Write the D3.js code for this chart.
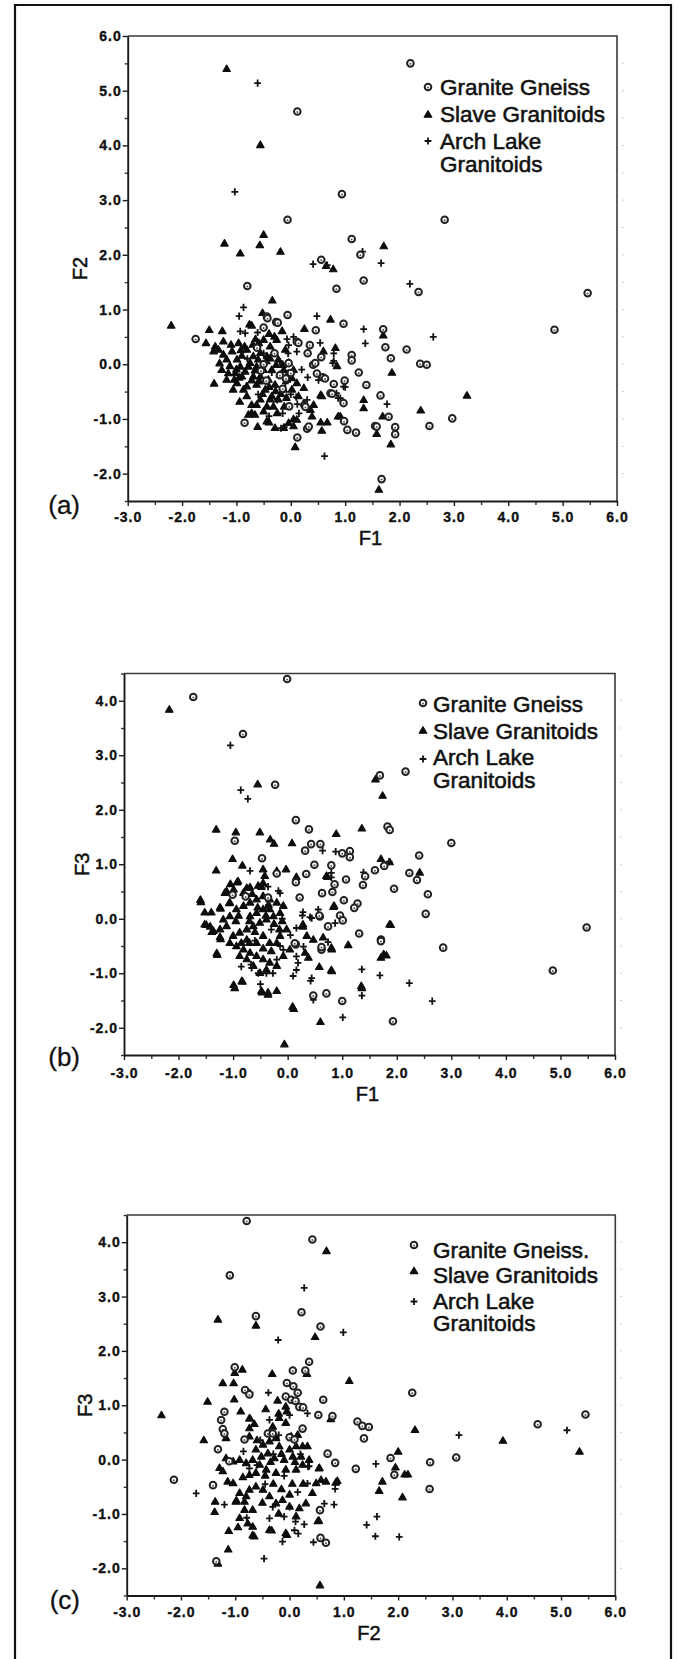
<!DOCTYPE html>
<html>
<head>
<meta charset="utf-8">
<script src="https://cdn.jsdelivr.net/npm/d3@7/dist/d3.min.js"></script>
<style>
  html, body { margin: 0; padding: 0; background: #fff; }
  svg { display: block; }
</style>
</head>
<body>
<script>
// ---------------- DATA ----------------
const seriesNames = ["Granite Gneiss", "Slave Granitoids", "Arch Lake", "Granitoids"];
const seriesNamesC = ["Granite Gneiss.", "Slave Granitoids", "Arch Lake", "Granitoids"];
const panelLabels = ["(a)", "(b)", "(c)"];
const xTitles = ["F1", "F1", "F2"];
const yTitles = ["F2", "F3", "F3"];
const xDomain = [-3, 6];
const yDomainA = [-2.5, 6];
const yDomainBC = [-2.5, 4.5];
const xTickValues = [-3, -2, -1, 0, 1, 2, 3, 4, 5, 6];
const yTicksA = [-2, -1, 0, 1, 2, 3, 4, 5, 6];
const yTicksBC = [-2, -1, 0, 1, 2, 3, 4];

// Panel (a): F1 vs F2
const gneissA = [[2.2,5.5],[0.12,4.62],[0.94,3.11],[-0.06,2.64],[2.83,2.64],[1.12,2.29],[1.28,2.0],[0.56,1.91],[1.34,1.53],[-0.8,1.43],[0.84,1.38],[2.35,1.32],[5.46,1.3],[-0.06,0.9],[-0.44,0.87],[0.97,0.74],[4.85,0.63],[1.7,0.64],[0.46,0.62],[-0.5,0.67],[-0.27,0.77],[-1.75,0.46],[0.11,0.41],[0.35,0.35],[2.13,0.27],[1.74,0.31],[0.31,0.2],[0.56,0.13],[1.12,0.17],[1.12,0.07],[1.84,0.11],[2.38,0.01],[2.5,-0.01],[-0.04,0.02],[0.41,-0.01],[0.0,-0.16],[1.25,-0.15],[-0.09,-0.26],[0.59,-0.24],[0.99,-0.3],[0.79,-0.36],[1.39,-0.38],[0.73,-0.53],[1.65,-0.57],[0.97,-0.71],[-0.03,-0.77],[0.25,-0.75],[2.97,-0.99],[1.8,-0.96],[0.98,-1.04],[-0.85,-1.07],[2.55,-1.13],[1.55,-1.13],[1.92,-1.15],[0.3,-1.18],[1.04,-1.2],[1.2,-1.25],[1.92,-1.28],[0.12,-1.34],[1.67,-2.1],[-0.24,0.76],[-0.43,0.84],[0.14,0.39],[0.45,0.02],[0.48,-0.17],[0.63,-0.26],[0.76,-0.54],[0.27,-0.78],[0.33,-1.14],[1.58,-1.14],[-0.5,0.0],[-0.55,-0.12],[-0.45,-0.3],[-0.2,-0.2],[-0.3,0.2],[-0.62,0.3],[-0.15,-0.45]];
const slaveA = [[-1.18,5.39],[-0.56,4.0],[-0.5,2.36],[-1.22,2.2],[-0.57,2.17],[-0.93,2.02],[-0.19,2.05],[1.71,2.15],[0.65,1.79],[0.78,1.73],[-0.34,1.16],[-2.2,0.7],[-0.52,0.93],[0.73,0.81],[0.25,0.64],[-1.5,0.62],[-1.26,0.6],[1.7,0.52],[-0.76,0.72],[3.24,-0.58],[1.86,-0.16],[-1.41,-0.36],[2.39,-0.85],[1.34,-0.66],[1.34,-0.81],[1.69,-0.96],[0.87,-0.96],[0.55,-0.57],[0.55,-1.07],[0.67,-1.07],[0.57,-1.22],[0.05,-1.01],[0.05,-1.14],[-0.61,-1.15],[-0.4,-1.07],[-0.29,-1.17],[-0.13,-1.17],[0.08,-1.52],[1.58,-1.28],[1.84,-1.47],[1.62,-2.3],[-0.94,-0.69],[-0.72,-0.9],[-0.66,-0.93],[-1.56,0.38],[-1.39,0.32],[-1.24,0.41],[-0.96,0.38],[-1.08,0.23],[-1.31,0.01],[-1.12,-0.04],[-1.15,-0.17],[-1.04,-0.29],[-0.9,-0.23],[-0.81,-0.41],[-0.81,-0.59],[-0.72,-0.75],[-0.78,-0.93],[-0.44,-1.05],[-0.04,-1.08],[0.11,-1.02],[0.39,-0.96],[0.57,-0.59],[0.91,-0.96],[0.85,-0.04],[0.82,0.29],[0.6,0.23],[-0.72,0.7],[-0.59,0.38],[-0.5,0.44],[-0.38,0.32],[-0.56,0.2],[-0.44,0.14],[-0.32,0.2],[-0.23,0.08],[-0.35,-0.11],[-0.5,-0.11],[-0.63,-0.05],[-0.56,-0.23],[-0.41,-0.29],[-0.29,-0.38],[-0.47,-0.47],[-0.35,-0.59],[-0.23,-0.65],[-0.13,-0.47],[-0.07,-0.29],[-0.13,-0.11],[-0.04,0.02],[0.05,-0.11],[0.02,-0.47],[0.14,-0.59],[0.24,-0.72],[0.36,-0.84],[0.42,-0.75],[0.24,-0.44],[0.11,-0.35],[-0.99,0.08],[-0.93,-0.05],[-0.81,0.26],[-0.69,0.14],[-0.75,0.02],[-0.84,-0.14],[-0.69,-0.23],[-0.63,-0.38],[-0.56,-0.65],[-0.44,-0.78],[-0.32,-0.78],[-0.5,-0.87],[-0.63,-0.75],[-0.87,-0.47],[-0.99,-0.35],[-1.02,-0.17],[-1.18,0.08],[-1.24,0.17],[-1.33,0.26],[-1.42,0.23],[-1.27,-0.11],[-1.18,-0.29],[-1.06,-0.47],[-0.2,-0.2],[-0.26,0.44],[-0.16,0.6],[-0.1,0.26],[0.02,-0.26],[-0.85,0.32],[-0.7,0.35],[-0.9,0.15],[-0.78,-0.05],[-0.66,-0.12],[-0.72,-0.3],[-0.58,-0.32],[-0.52,-0.55],[-0.4,-0.42],[-0.28,-0.5],[-0.18,-0.55],[-0.08,-0.62],[-0.12,-0.78],[-0.25,-0.9],[-0.38,-0.65],[-0.45,0.05],[-0.38,0.1],[-0.27,-0.02],[-0.15,-0.02],[-0.05,-0.18],[-0.92,0.25],[-1.1,0.35],[-1.0,-0.1],[-0.95,-0.25],[-0.6,0.08],[-0.65,0.45],[-0.4,0.55],[-0.3,0.5]];
const archA = [[-0.61,5.14],[-1.03,3.15],[1.32,2.06],[0.41,1.83],[0.67,1.81],[1.66,1.85],[2.19,1.47],[-0.87,1.04],[-0.95,0.88],[0.48,0.88],[1.34,0.64],[1.37,0.38],[2.62,0.5],[0.11,0.23],[0.77,0.02],[0.31,-0.24],[0.84,-0.53],[0.87,-0.62],[1.77,-0.73],[0.97,-0.41],[0.51,-0.29],[0.62,-1.68],[-0.12,-1.15],[-0.18,-1.17],[0.12,-0.73],[-0.93,0.6],[-0.84,0.57],[-0.61,0.58],[-0.07,0.46],[-0.04,0.35],[0.54,0.39],[0.79,0.2],[0.79,0.06],[1.0,-0.42],[0.91,-0.62],[0.3,-0.65],[-0.5,0.2],[-0.2,0.05],[-0.35,-0.15],[-0.1,-0.35],[0.0,-0.55],[-0.25,-0.65],[-0.6,-0.55],[0.1,-0.6],[-0.8,0.1],[0.05,0.5],[-0.05,0.2],[0.2,-0.1],[-0.15,-0.9],[-0.4,-0.95],[0.15,-0.9]];

// Panel (b): F1 vs F3
const gneissB = [[-0.01,4.4],[-1.73,4.07],[-0.82,3.39],[-0.23,2.46],[1.69,2.63],[2.16,2.7],[0.15,1.81],[0.39,1.64],[-0.97,1.43],[0.43,1.37],[0.6,1.37],[0.32,1.25],[1.83,1.69],[1.87,1.63],[3.0,1.39],[1.0,1.2],[1.14,1.24],[1.14,1.13],[2.41,1.16],[-0.47,1.11],[0.49,0.99],[0.8,0.98],[1.77,0.97],[1.6,0.89],[0.34,0.82],[2.23,0.84],[1.07,0.72],[1.42,0.78],[2.37,0.71],[-0.2,0.83],[0.86,0.63],[1.38,0.62],[0.15,0.67],[1.95,0.55],[0.63,0.47],[0.82,0.49],[2.57,0.45],[-1.01,0.44],[-0.77,0.41],[0.22,0.39],[1.03,0.34],[1.28,0.28],[1.22,0.2],[2.53,0.09],[0.96,0.06],[0.59,0.04],[1.01,-0.03],[5.48,-0.16],[1.31,-0.27],[1.71,-0.38],[1.71,-0.41],[0.15,-0.47],[0.62,-0.57],[2.85,-0.53],[4.86,-0.95],[0.47,-1.41],[0.71,-1.37],[1.0,-1.51],[1.93,-1.88],[-0.36,0.39],[0.74,-0.14],[0.13,-0.45],[0.62,-0.52],[0.58,0.06]];
const slaveB = [[-2.17,3.83],[-0.55,2.46],[1.61,2.55],[1.74,2.25],[-1.31,1.63],[-0.95,1.58],[-0.51,1.58],[1.36,1.65],[0.89,1.55],[-0.32,1.45],[-0.25,1.37],[0.08,1.38],[-1.01,1.09],[-0.83,0.97],[-1.31,0.88],[1.71,1.09],[1.87,1.03],[2.42,0.84],[0.73,0.76],[0.16,0.76],[-1.05,0.63],[-0.93,0.66],[-0.69,0.57],[-1.15,0.47],[-1.59,0.3],[-1.52,0.11],[-1.4,0.11],[-1.23,0.18],[-1.07,0.28],[0.84,0.21],[1.89,-0.12],[0.28,-0.15],[-1.49,-0.12],[-1.39,-0.25],[-1.23,-0.38],[-1.29,-0.67],[1.11,-0.49],[0.81,-0.57],[0.58,-0.89],[0.81,-0.97],[1.71,-0.72],[1.81,-0.68],[-0.97,-1.28],[-0.83,-1.16],[-0.47,-1.36],[-0.36,-1.4],[1.36,-1.28],[0.11,-1.66],[0.6,-1.9],[-0.06,-2.31],[-0.45,0.9],[-0.42,0.78],[-0.45,0.65],[-0.48,0.58],[-0.03,0.9],[-0.2,0.87],[0.71,0.78],[-0.91,0.68],[-0.75,0.56],[-0.54,0.6],[-1.12,0.5],[-0.99,0.53],[-0.81,0.47],[-1.6,0.34],[-1.24,0.2],[-1.06,0.29],[-1.52,-0.11],[-1.42,-0.15],[-1.36,-0.23],[0.28,-0.11],[-1.24,-0.34],[-1.3,-0.64],[0.35,-0.32],[0.47,-0.39],[0.65,-0.35],[0.85,0.23],[0.8,-0.54],[0.32,-0.63],[0.38,-0.72],[1.87,-0.11],[1.76,-0.66],[0.8,-0.95],[1.35,-1.24],[-0.84,-1.15],[-0.99,-1.22],[-0.48,-1.33],[-0.36,-1.36],[-0.2,-1.33],[0.09,-1.62],[-1.18,-0.02],[-1.06,0.04],[-0.94,0.17],[-0.81,0.23],[-0.69,0.29],[-0.57,0.35],[-0.45,0.41],[-0.33,0.35],[-0.2,0.29],[-0.08,0.23],[-0.14,0.1],[-0.26,0.04],[-0.39,-0.02],[-0.51,-0.08],[-0.63,-0.14],[-0.75,-0.2],[-0.88,-0.26],[-1.0,-0.32],[-1.06,-0.45],[-0.94,-0.51],[-0.81,-0.57],[-0.69,-0.63],[-0.57,-0.69],[-0.45,-0.75],[-0.33,-0.81],[-0.2,-0.87],[-0.39,-0.94],[-0.51,-1.0],[-0.63,-0.87],[-0.75,-0.75],[-0.88,-0.69],[-0.69,0.04],[-0.57,0.1],[-0.45,0.17],[-0.33,0.17],[-0.45,-0.32],[-0.33,-0.45],[-0.14,-0.32],[-0.02,-0.2],[0.04,-0.57],[-0.08,-0.69],[-1.12,-0.14],[-1.24,-0.2],[-0.57,-0.45],[-0.75,-0.39],[-0.9,0.05],[-0.7,-0.05],[-0.55,0.2],[-0.4,0.05],[-0.25,-0.1],[-0.15,-0.2],[-0.6,-0.25],[-0.45,-0.55],[-0.3,-0.6],[-0.7,-0.45],[-0.85,-0.45],[-0.2,-0.45],[-0.1,-0.05],[-0.95,-0.05],[-0.35,0.25],[-0.65,0.45]];
const archB = [[-1.05,3.18],[-0.86,2.36],[-0.73,2.2],[0.64,1.25],[0.88,1.23],[1.39,0.85],[0.8,0.84],[1.86,1.05],[-0.69,0.88],[-0.14,0.47],[0.27,0.06],[0.44,0.01],[0.87,-0.08],[0.74,-0.43],[1.36,-0.93],[1.69,-1.04],[2.23,-1.18],[2.65,-1.51],[1.36,-1.41],[1.01,-1.81],[0.42,-1.14],[0.47,-1.49],[-0.85,-0.88],[-0.67,-0.84],[0.8,0.76],[-0.17,0.51],[-0.36,0.59],[0.28,0.12],[0.41,0.03],[0.56,0.17],[0.16,-0.17],[0.29,-0.51],[0.16,-0.69],[0.44,-1.09],[-0.66,-0.9],[-0.54,-1.0],[-0.39,-1.0],[-0.27,-1.0],[-0.14,-0.5],[-0.08,-0.57],[0.19,-0.81],[0.16,-0.94],[-0.4,0.2],[-0.3,-0.2],[-0.1,0.0],[-0.6,-0.4],[0.05,-0.3],[-0.2,-0.75],[0.1,-1.05],[-0.5,-1.2]];

// Panel (c): F2 vs F3
const gneissC = [[-0.79,4.39],[0.42,4.05],[-1.1,3.39],[-0.62,2.64],[0.22,2.71],[0.57,2.45],[-1.01,1.7],[0.36,1.8],[0.06,1.64],[0.29,1.64],[-0.82,1.28],[-0.74,1.2],[-0.05,1.41],[0.07,1.35],[0.15,1.23],[0.62,1.1],[2.26,1.23],[-0.07,1.16],[0.03,1.1],[0.11,1.08],[0.18,0.97],[0.25,0.96],[-1.2,0.88],[0.53,0.82],[0.79,0.8],[-1.26,0.73],[5.45,0.83],[1.25,0.7],[1.34,0.62],[1.46,0.6],[4.57,0.65],[-1.23,0.56],[-1.2,0.48],[0.24,0.57],[-0.83,0.37],[1.37,0.39],[-0.4,0.48],[-0.31,0.48],[0.0,0.41],[0.09,0.37],[-1.32,0.19],[-1.11,-0.03],[0.7,0.11],[0.84,-0.06],[1.86,0.03],[2.59,-0.05],[3.07,0.04],[1.22,-0.17],[1.93,-0.28],[-2.13,-0.37],[-1.41,-0.47],[2.58,-0.54],[0.57,-1.44],[0.67,-1.53],[-1.35,-1.87],[0.56,-0.93]];
const slaveC = [[0.68,3.83],[-1.32,2.57],[-0.62,2.46],[0.47,2.25],[1.1,1.44],[-0.87,1.65],[-1.01,1.59],[-0.32,1.57],[0.32,1.57],[-1.23,1.4],[-1.03,1.4],[-1.51,1.06],[-1.02,1.1],[-0.44,0.92],[-0.9,0.88],[-0.2,0.84],[-0.73,0.75],[0.76,0.74],[2.31,0.54],[-2.36,0.81],[-1.58,0.35],[3.93,0.34],[5.34,0.14],[2.0,0.14],[1.95,-0.15],[2.12,-0.28],[2.18,-0.28],[1.71,-0.41],[1.65,-0.58],[2.08,-0.7],[-1.37,-0.78],[-0.98,-0.76],[-1.12,-1.32],[-0.95,-1.25],[-1.13,-1.66],[-1.32,-1.92],[0.56,-2.32],[-0.65,-1.42],[-0.33,-1.31],[-0.05,-1.39],[0.54,-1.13],[0.88,-0.4],[0.54,-0.17],[-0.22,1.08],[-0.07,0.97],[-0.05,0.88],[-0.74,0.75],[-0.65,0.65],[-0.19,0.76],[-0.31,0.6],[-0.07,0.67],[-0.74,0.57],[-0.74,0.42],[-1.17,0.39],[-0.25,0.39],[0.03,0.42],[-0.62,0.18],[-0.49,0.27],[-0.37,0.33],[-0.19,0.24],[0.0,0.18],[0.12,0.24],[0.24,0.24],[0.33,0.24],[0.21,0.05],[0.06,0.05],[-0.1,-0.01],[-0.28,0.02],[-0.4,0.11],[-0.52,0.05],[-0.68,-0.01],[-0.8,-0.07],[-0.92,-0.01],[-1.04,-0.04],[-1.17,0.02],[-1.29,-0.16],[-1.23,-0.22],[-0.86,-0.33],[-0.74,-0.29],[-0.62,-0.25],[-0.43,-0.19],[-0.25,-0.25],[-0.07,-0.19],[0.12,-0.19],[0.24,-0.1],[0.36,-0.01],[0.55,-0.16],[0.58,-0.38],[0.67,-0.41],[0.85,-0.43],[0.49,-0.44],[0.42,-0.62],[0.3,-0.81],[0.18,-0.9],[0.12,-1.05],[0.0,-0.87],[-0.13,-0.75],[-0.25,-0.81],[-0.37,-0.68],[-0.49,-0.56],[-0.62,-0.5],[-0.74,-0.56],[-0.8,-0.68],[-0.92,-0.62],[-1.04,-0.44],[-1.14,-0.41],[-0.99,-0.78],[-0.83,-0.78],[-0.68,-0.93],[-0.83,-0.93],[-0.92,-1.08],[-0.77,-1.18],[-0.68,-1.24],[-0.37,-1.3],[-0.07,-1.36],[0.52,-1.14],[-1.38,-0.97],[-0.68,-1.4],[-0.55,-0.1],[-0.35,-0.05],[-0.15,0.1],[0.1,-0.05],[-0.3,-0.45],[-0.15,-0.55],[0.05,-0.45],[-0.5,-0.8],[-0.2,-1.0],[0.25,-0.45],[-0.6,0.35],[0.15,0.45],[-0.45,-0.3],[0.0,-0.65]];
const archC = [[0.27,3.16],[0.99,2.34],[-0.21,2.2],[-0.39,1.23],[-0.73,1.23],[1.59,-0.08],[3.12,0.45],[5.11,0.54],[-1.72,-0.62],[-1.2,-0.83],[0.84,-0.54],[0.82,-0.83],[0.36,-0.12],[1.61,-1.05],[1.42,-1.2],[1.58,-1.41],[2.02,-1.42],[-0.47,-1.82],[-0.13,-1.51],[0.44,-1.52],[0.16,-1.36],[-0.79,-1.07],[0.33,0.85],[-0.37,0.73],[0.0,0.82],[-0.54,0.36],[-0.74,-0.16],[0.34,-0.13],[0.33,-0.44],[0.64,-0.81],[-0.1,-1.05],[0.11,-1.14],[0.27,-1.19],[0.09,-1.3],[-0.37,-1.08],[0.0,-0.87],[-0.31,-0.87],[-0.3,0.1],[-0.1,-0.3],[-0.6,-0.1],[0.15,-0.6],[-0.45,-0.45],[-0.2,0.45],[-0.85,0.15],[0.2,0.1]];

// ---------------- LAYOUT ----------------
const W = 678, H = 1659;
const panels = [
  { g: gneissA, s: slaveA, a: archA, yDomain: yDomainA, yTicks: yTicksA, names: seriesNames,
    left: 127.7, right: 617, top: 36, bottom: 501,
    xLblY: 522, xTitleY: 545, yTitleX: 80, plY: 514,
    leg: { symX: 428, textX: 440, base: [95, 122, 149, 172], symY: [87, 115, 141] } },
  { g: gneissB, s: slaveB, a: archB, yDomain: yDomainBC, yTicks: yTicksBC, names: seriesNames,
    left: 124, right: 615, top: 673.5, bottom: 1055,
    xLblY: 1078, xTitleY: 1101, yTitleX: 82, plY: 1066,
    leg: { symX: 423, textX: 433, base: [712, 739, 765, 788], symY: [703, 731, 759] } },
  { g: gneissC, s: slaveC, a: archC, yDomain: yDomainBC, yTicks: yTicksBC, names: seriesNamesC,
    left: 126.7, right: 615.3, top: 1215, bottom: 1595.5,
    xLblY: 1617, xTitleY: 1640, yTitleX: 85, plY: 1609,
    leg: { symX: 414, textX: 433, base: [1257.5, 1282.5, 1309, 1331], symY: [1245, 1271.5, 1301.5] } }
];

const svg = d3.select("body").append("svg")
  .attr("width", W).attr("height", H)
  .attr("viewBox", `0 0 ${W} ${H}`);

svg.append("rect").attr("width", W).attr("height", H).attr("fill", "#fff");

// outer frame (open at bottom)
svg.append("path")
  .attr("d", `M15,${H} V5 H671 V${H}`)
  .attr("fill", "none").attr("stroke", "#111").attr("stroke-width", 2.2);

const font = "'Liberation Sans', Arial, sans-serif";
const fmt = d => d.toFixed(1);

function drawCircle(g, x, y) {
  g.append("circle").attr("cx", x).attr("cy", y).attr("r", 3.3)
    .attr("fill", "#fff").attr("stroke", "#222").attr("stroke-width", 2);
  g.append("circle").attr("cx", x).attr("cy", y + 0.5).attr("r", 1).attr("fill", "#555");
}
const triPath = d3.symbol().type(d3.symbolTriangle).size(24)();
function drawTri(g, x, y) {
  g.append("path").attr("d", triPath).attr("transform", `translate(${x},${y})`)
    .attr("fill", "#0d0d0d").attr("stroke", "#0d0d0d").attr("stroke-width", 1.2)
    .attr("stroke-linejoin", "round");
}
function drawPlus(g, x, y) {
  g.append("path").attr("d", `M${x-3.4},${y}H${x+3.4}M${x},${y-3.6}V${y+3.6}`)
    .attr("stroke", "#111").attr("stroke-width", 1.8).attr("fill", "none");
}

panels.forEach((p, i) => {
  const x = d3.scaleLinear().domain(xDomain).range([p.left, p.right]);
  const y = d3.scaleLinear().domain(p.yDomain).range([p.bottom, p.top]);
  const g = svg.append("g");

  // plot box (top/right)
  g.append("path").attr("d", `M${p.left},${p.top}H${p.right}V${p.bottom}`)
    .attr("fill", "none").attr("stroke", "#3a3a3a").attr("stroke-width", 1.6);

  // faint outside ticks on the right
  const halfY = d3.range(p.yDomain[0] + 0.5, p.yDomain[1], 0.5);
  g.selectAll(".rt").data(halfY).enter().append("line")
    .attr("x1", p.right + 5).attr("x2", p.right + 7)
    .attr("y1", d => y(d)).attr("y2", d => y(d))
    .attr("stroke", "#cfcfcf").attr("stroke-width", 1);

  // minor ticks
  const minorX = d3.range(-2.5, 6, 1);
  const minorY = d3.range(p.yDomain[0], p.yDomain[1] + 0.01, 1).filter(v => !p.yTicks.includes(v));
  g.append("g").attr("transform", `translate(0,${p.bottom})`)
    .call(d3.axisBottom(x).tickValues(minorX).tickSize(4).tickFormat(""))
    .call(a => a.select(".domain").remove())
    .call(a => a.selectAll("line").attr("stroke", "#333").attr("stroke-width", 1.4));
  g.append("g").attr("transform", `translate(${p.left},0)`)
    .call(d3.axisLeft(y).tickValues(minorY).tickSize(3).tickFormat(""))
    .call(a => a.select(".domain").remove())
    .call(a => a.selectAll("line").attr("stroke", "#333").attr("stroke-width", 1.4));

  // major x axis
  const xa = g.append("g").attr("transform", `translate(0,${p.bottom})`)
    .call(d3.axisBottom(x).tickValues(xTickValues).tickSize(5).tickSizeOuter(0).tickFormat(fmt));
  xa.select(".domain").attr("stroke", "#1a1a1a").attr("stroke-width", 1.9);
  xa.selectAll("line").attr("stroke", "#1a1a1a").attr("stroke-width", 1.4);
  xa.selectAll("text").attr("y", null).attr("dy", null)
    .attr("transform", `translate(0,${p.xLblY - p.bottom})`)
    .attr("font-family", font).attr("font-weight", "bold").attr("font-size", 14)
    .attr("letter-spacing", 1).attr("fill", "#111")
    .attr("stroke", "#111").attr("stroke-width", 0.35);

  // major y axis
  const ya = g.append("g").attr("transform", `translate(${p.left},0)`)
    .call(d3.axisLeft(y).tickValues(p.yTicks).tickSize(5).tickSizeOuter(0).tickPadding(1).tickFormat(fmt));
  ya.select(".domain").attr("stroke", "#1a1a1a").attr("stroke-width", 1.9);
  ya.selectAll("line").attr("stroke", "#1a1a1a").attr("stroke-width", 1.4);
  ya.selectAll("text").attr("font-family", font).attr("font-weight", "bold")
    .attr("font-size", 14).attr("letter-spacing", 1).attr("fill", "#111")
    .attr("stroke", "#111").attr("stroke-width", 0.35);

  // points
  const pts = g.append("g");
  p.s.forEach(d => drawTri(pts, x(d[0]), y(d[1])));
  p.a.forEach(d => drawPlus(pts, x(d[0]), y(d[1])));
  p.g.forEach(d => drawCircle(pts, x(d[0]), y(d[1])));

  // legend
  const L = p.leg;
  drawCircle(g, L.symX, L.symY[0]);
  drawTri(g, L.symX, L.symY[1]);
  drawPlus(g, L.symX, L.symY[2]);
  p.names.forEach((t, k) => {
    g.append("text").attr("x", L.textX).attr("y", L.base[k]).text(t)
      .attr("font-family", font).attr("font-size", 22.5).attr("fill", "#111")
      .attr("stroke", "#111").attr("stroke-width", 0.55);
  });

  // axis titles
  g.append("text").attr("x", (p.left + p.right) / 2 - 2).attr("y", p.xTitleY)
    .attr("text-anchor", "middle").text(xTitles[i])
    .attr("font-family", font).attr("font-size", 20).attr("fill", "#111")
    .attr("stroke", "#111").attr("stroke-width", 0.5);
  const yc = (p.top + p.bottom) / 2;
  g.append("text").attr("transform", `translate(${p.yTitleX + 7},${yc}) rotate(-90)`)
    .attr("text-anchor", "middle").text(yTitles[i])
    .attr("font-family", font).attr("font-size", 20).attr("fill", "#111")
    .attr("stroke", "#111").attr("stroke-width", 0.5);

  // panel label
  g.append("text").attr("x", 80).attr("y", p.plY).attr("text-anchor", "end")
    .text(panelLabels[i]).attr("font-family", font).attr("font-size", 26).attr("fill", "#111")
    .attr("stroke", "#111").attr("stroke-width", 0.3);
});
</script>
</body>
</html>
